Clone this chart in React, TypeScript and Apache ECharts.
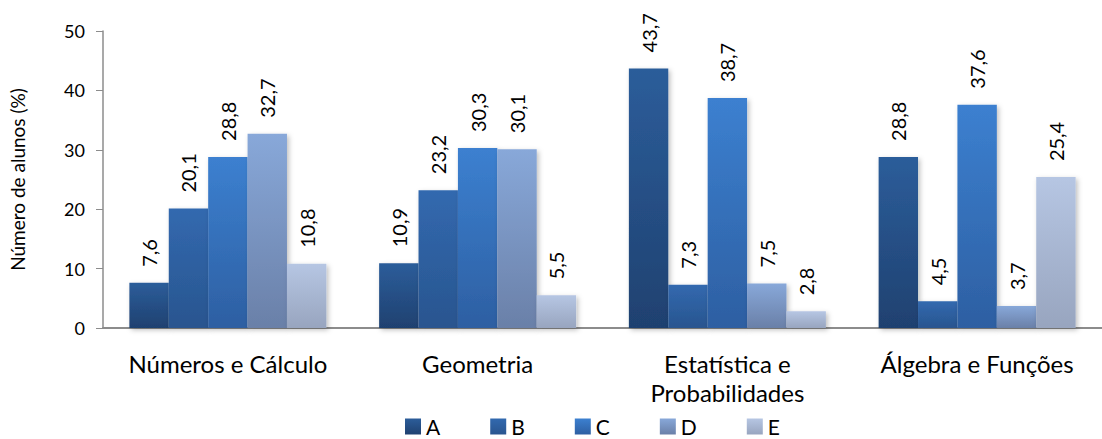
import React, { useEffect, useRef } from "react";
import * as echarts from "echarts";

const categories = ["Números e Cálculo", "Geometria", "Estatística e\nProbabilidades", "Álgebra e Funções"];
const seriesNames = ["A", "B", "C", "D", "E"];
const valuesA = [7.6, 10.9, 43.7, 28.8];
const valuesB = [20.1, 23.2, 7.3, 4.5];
const valuesC = [28.8, 30.3, 38.7, 37.6];
const valuesD = [32.7, 30.1, 7.5, 3.7];
const valuesE = [10.8, 5.5, 2.8, 25.4];
const yTicks = [0, 10, 20, 30, 40, 50];

const allValues = [valuesA, valuesB, valuesC, valuesD, valuesE];
const gradients: [string, string][] = [
  ["#2c5d9a", "#1f4170"],
  ["#3269af", "#29558f"],
  ["#3c80d0", "#2d5fa2"],
  ["#88a8d9", "#6a80a8"],
  ["#b6c6e3", "#98a5bf"],
];

export default function App() {
  const ref = useRef<HTMLDivElement>(null);
  useEffect(() => {
    if (!ref.current) return;
    const chart = echarts.init(ref.current, null, { renderer: "svg" });
    const font = "Lato, 'Open Sans', sans-serif";
    chart.setOption({
      animation: false,
      textStyle: { fontFamily: font },
      grid: { left: 98, right: -14, top: 31, bottom: 439 - 328, containLabel: false },
      legend: {
        data: seriesNames,
        left: 405,
        top: 416,
        padding: 0,
        icon: "rect",
        itemWidth: 16,
        itemHeight: 16,
        itemGap: 50,
        textStyle: { fontSize: 21, color: "#000", fontFamily: font },
      },
      xAxis: {
        type: "category",
        data: categories,
        axisLine: { lineStyle: { color: "#8c8c8c", width: 2 } },
        axisTick: { show: false },
        axisLabel: { fontSize: 24, color: "#000", margin: 21, lineHeight: 29, fontFamily: font, interval: 0 },
      },
      yAxis: {
        type: "value",
        min: yTicks[0],
        max: yTicks[yTicks.length - 1],
        interval: 10,
        name: "Número de alunos (%)",
        nameLocation: "middle",
        nameGap: 76,
        nameTextStyle: { fontSize: 19, color: "#000", fontFamily: font },
        splitLine: { show: false },
        axisLine: { show: true, lineStyle: { color: "#8c8c8c", width: 1.5 } },
        axisTick: { show: true, inside: false, length: 7, lineStyle: { color: "#8c8c8c" } },
        axisLabel: { fontSize: 18, color: "#000", margin: 18, fontFamily: font },
      },
      series: seriesNames.map((name, i) => ({
        name,
        type: "bar",
        data: allValues[i],
        barWidth: 39.4,
        barGap: "0%",
        itemStyle: {
          color: new echarts.graphic.LinearGradient(0, 0, 0, 1, [
            { offset: 0, color: gradients[i][0] },
            { offset: 1, color: gradients[i][1] },
          ]),
          shadowBlur: 5,
          shadowOffsetX: 2,
          shadowOffsetY: 2,
          shadowColor: "rgba(0,0,0,0.25)",
        },
        label: {
          show: true,
          position: "top",
          rotate: 90,
          align: "left",
          verticalAlign: "middle",
          distance: 16,
          fontSize: 20,
          color: "#000",
          fontFamily: font,
          formatter: (p: any) => String(p.value).replace(".", ","),
        },
      })),
    });
    return () => chart.dispose();
  }, []);
  return <div ref={ref} style={{ width: 1102, height: 439, position: "absolute", left: 0, top: 0 }} />;
}
